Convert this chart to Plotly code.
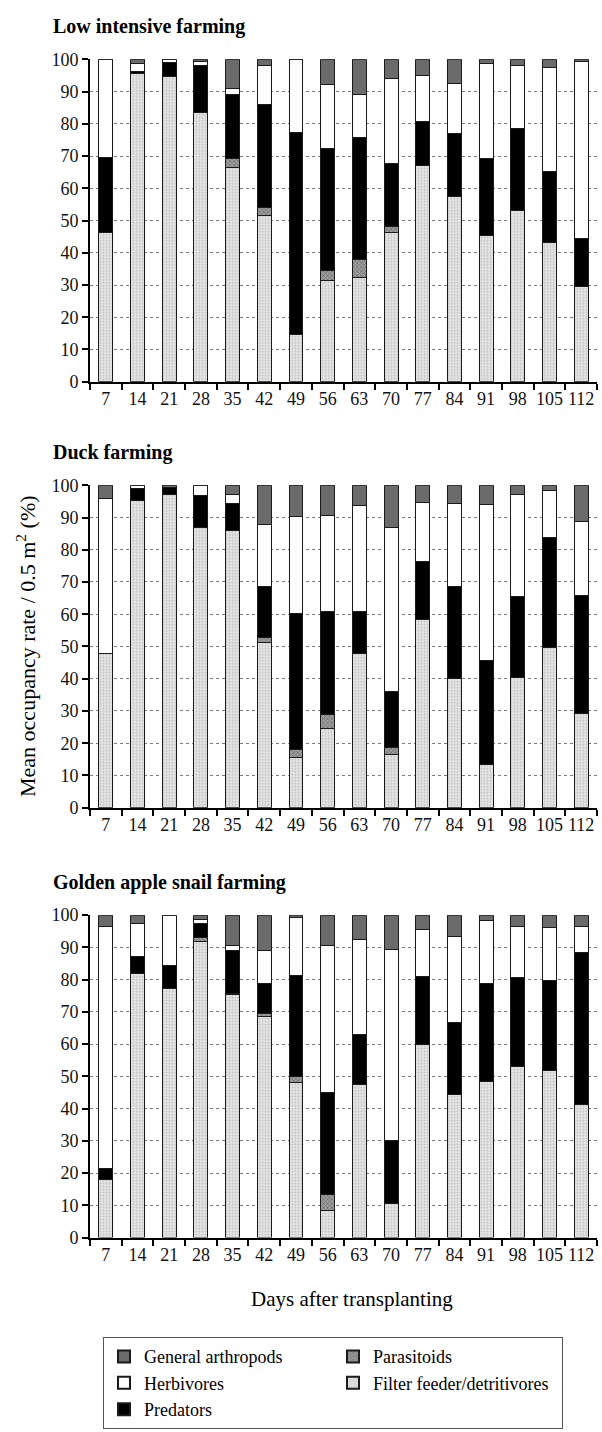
import plotly.graph_objects as go
from plotly.subplots import make_subplots

days = ["7", "14", "21", "28", "35", "42", "49", "56", "63", "70", "77", "84", "91", "98", "105", "112"]

panel_titles = ["Low intensive farming", "Duck farming", "Golden apple snail farming"]

# Low intensive farming (% per group, stacked bottom to top)
low_filter = [46.3, 95.6, 94.7, 83.4, 66.4, 51.5, 14.8, 31.5, 32.3, 46.3, 67.2, 57.4, 45.3, 53.0, 43.1, 29.5]
low_parasitoids = [0, 0, 0, 0, 2.7, 2.5, 0, 3.0, 5.6, 2.0, 0, 0, 0, 0, 0, 0]
low_predators = [23.4, 0.6, 4.3, 14.6, 20.0, 32.0, 62.6, 37.8, 37.7, 19.4, 13.5, 19.6, 23.9, 25.4, 22.0, 14.9]
low_herbivores = [30.3, 2.4, 1.0, 1.2, 2.0, 12.0, 22.6, 20.0, 13.4, 26.2, 14.2, 15.5, 29.4, 19.8, 32.3, 54.8]
low_general = [0, 1.4, 0, 0.8, 8.9, 2.0, 0, 7.7, 11.0, 6.1, 5.1, 7.5, 1.4, 1.8, 2.6, 0.8]

# Duck farming
duck_filter = [47.9, 95.4, 97.1, 86.8, 85.9, 51.2, 15.5, 24.6, 47.9, 16.5, 58.3, 40.1, 13.4, 40.5, 49.7, 29.2]
duck_parasitoids = [0, 0, 0, 0, 0, 1.5, 2.4, 4.2, 0, 2.1, 0, 0, 0, 0, 0, 0]
duck_predators = [0, 3.5, 2.1, 10.0, 8.5, 16.0, 42.2, 32.0, 12.9, 17.5, 18.2, 28.4, 32.4, 25.1, 34.1, 36.7]
duck_herbivores = [47.9, 1.1, 0, 3.2, 2.7, 19.0, 30.2, 29.9, 32.8, 50.7, 18.1, 25.8, 48.1, 31.5, 14.5, 22.8]
duck_general = [4.2, 0, 0.8, 0, 2.9, 12.3, 9.7, 9.3, 6.4, 13.2, 5.4, 5.7, 6.1, 2.9, 1.7, 11.3]

# Golden apple snail farming
snail_filter = [17.9, 81.9, 77.3, 91.8, 75.3, 68.5, 48.2, 8.5, 47.4, 10.7, 59.9, 44.4, 48.5, 53.1, 51.7, 41.3]
snail_parasitoids = [0, 0, 0, 1.3, 0.5, 1.0, 1.8, 5.0, 0, 0, 0, 0, 0, 0, 0, 0]
snail_predators = [3.6, 5.3, 7.2, 4.3, 13.2, 9.3, 31.3, 31.4, 15.6, 19.4, 21.2, 22.4, 30.3, 27.6, 27.9, 47.0]
snail_herbivores = [75.0, 10.2, 15.5, 1.3, 1.6, 10.1, 18.0, 45.7, 29.6, 59.4, 14.5, 26.6, 19.5, 15.7, 16.6, 8.1]
snail_general = [3.5, 2.6, 0, 1.3, 9.4, 11.1, 0.7, 9.4, 7.4, 10.5, 4.4, 6.6, 1.7, 3.6, 3.8, 3.6]

panels = [
    [low_filter, low_parasitoids, low_predators, low_herbivores, low_general],
    [duck_filter, duck_parasitoids, duck_predators, duck_herbivores, duck_general],
    [snail_filter, snail_parasitoids, snail_predators, snail_herbivores, snail_general],
]

groups = ["Filter feeder/detritivores", "Parasitoids", "Predators", "Herbivores", "General arthropods"]
# legend order: General, Parasitoids / Herbivores, Filter / Predators
legend_rank = {"General arthropods": 1, "Parasitoids": 2, "Herbivores": 3,
               "Filter feeder/detritivores": 4, "Predators": 5}
styles = {
    "Filter feeder/detritivores": dict(color="#e2e2e2",
                                       pattern=dict(shape=".", fgcolor="#9c9c9c", bgcolor="#e6e6e6",
                                                    size=3, solidity=0.35)),
    "Parasitoids": dict(color="#8a8a8a",
                        pattern=dict(shape="x", fgcolor="#3a3a3a", bgcolor="#a0a0a0",
                                     size=3, solidity=0.45)),
    "Predators": dict(color="#000000"),
    "Herbivores": dict(color="#ffffff"),
    "General arthropods": dict(color="#6b6b6b"),
}

W, H = 602, 1432
SERIF = "Times New Roman, Liberation Serif, Tinos, DejaVu Serif, serif"

fig = make_subplots(rows=3, cols=1)

for p, values in enumerate(panels):
    for name, vals in zip(groups, values):
        st = styles[name]
        marker = dict(color=st["color"], line=dict(color="#1a1a1a", width=1))
        if "pattern" in st:
            marker["pattern"] = st["pattern"]
        fig.add_trace(
            go.Bar(x=days, y=vals, name=name, marker=marker,
                   showlegend=(p == 0), legendrank=legend_rank[name]),
            row=p + 1, col=1,
        )

# plot areas in pixels: (top of 100 line, bottom at 0)
plot_px = [(50, 377), (482, 809), (918, 1245)]
x_dom = [90 / W, 597 / W]

for i, (top, bot) in enumerate(plot_px):
    sfx = "" if i == 0 else str(i + 1)
    fig.layout["xaxis" + sfx].update(
        domain=x_dom, type="category", tickson="boundaries", tickangle=0,
        showline=True, linecolor="#000", linewidth=2,
        ticks="outside", ticklen=6, tickwidth=2, tickcolor="#000",
        tickfont=dict(family=SERIF, size=18, color="#111"),
        showgrid=False, zeroline=False,
    )
    fig.layout["yaxis" + sfx].update(
        domain=[1 - bot / H, 1 - top / H], range=[0, 100],
        tickvals=list(range(0, 101, 10)),
        showline=True, linecolor="#000", linewidth=2,
        ticks="outside", ticklen=6, tickwidth=2, tickcolor="#000",
        tickfont=dict(family=SERIF, size=18, color="#111"),
        showgrid=True, gridcolor="#7a7a7a", griddash="dot", gridwidth=1,
        zeroline=False,
    )
    fig.add_annotation(
        text="<b>" + panel_titles[i] + "</b>", xref="paper", yref="paper",
        x=51 / W, y=1 - (top - 33) / H, xanchor="left", yanchor="middle",
        showarrow=False, font=dict(family=SERIF, size=20, color="#000"),
    )

fig.add_annotation(
    text="Mean occupancy rate / 0.5 m<sup>2</sup> (%)", xref="paper", yref="paper",
    x=26 / W, y=1 - 645 / H, textangle=-90, xanchor="center", yanchor="middle",
    showarrow=False, font=dict(family=SERIF, size=22, color="#000"),
)
fig.add_annotation(
    text="Days after transplanting", xref="paper", yref="paper",
    x=352 / W, y=1 - 1307 / H, xanchor="center", yanchor="middle",
    showarrow=False, font=dict(family=SERIF, size=21, color="#000"),
)

fig.update_layout(
    width=W, height=H, margin=dict(l=0, r=0, t=0, b=0),
    paper_bgcolor="#fff", plot_bgcolor="#fff",
    barmode="stack", bargap=0.56,
    legend=dict(
        orientation="h", traceorder="normal",
        x=103 / W, y=1 - 1346 / H, xanchor="left", yanchor="top",
        entrywidth=184, entrywidthmode="pixels",
        bordercolor="#555", borderwidth=1, bgcolor="#fff",
        font=dict(family=SERIF, size=18, color="#000"),
        itemsizing="constant", tracegroupgap=0,
    ),
)

fig.write_html("out.html")
